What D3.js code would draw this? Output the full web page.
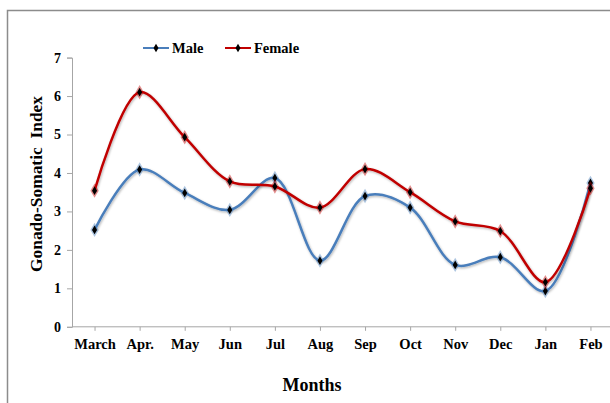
<!DOCTYPE html>
<html lang="en">
<head>
<meta charset="utf-8">
<title>Gonado-Somatic Index</title>
<script src="https://cdn.jsdelivr.net/npm/d3@7"></script>
<style>
  body { margin: 0; background: #fff; }
  svg text { font-family: "Liberation Serif", "Times New Roman", serif; font-weight: bold; fill: #000; }
  .axis path, .axis line { stroke: #a6a6a6; }
</style>
</head>
<body>
<svg width="610" height="403"></svg>
<script>
// data
var months = ['March', 'Apr.', 'May', 'Jun', 'Jul', 'Aug', 'Sep', 'Oct', 'Nov', 'Dec', 'Jan', 'Feb']
var male   = [2.52, 4.09, 3.48, 3.04, 3.87, 1.72, 3.40, 3.10, 1.61, 1.81, 0.93, 3.74]
var female = [3.54, 6.10, 4.93, 3.78, 3.65, 3.10, 4.10, 3.50, 2.74, 2.49, 1.16, 3.60]
var yTicks = [0, 1, 2, 3, 4, 5, 6, 7]

var series = [
  {name: 'Male', values: male, color: '#4a7ebb'},
  {name: 'Female', values: female, color: '#c00000'}
]

var svg = d3.select('svg')

// outer chart frame
svg.append('rect')
  .attr('x', 7.5).attr('y', 10.5)
  .attr('width', 620).attr('height', 420)
  .attr('fill', 'none').attr('stroke', '#8c8c8c').attr('stroke-width', 1.5)

var x = d3.scalePoint().domain(months).range([72, 613]).padding(0.5)
var y = d3.scaleLinear().domain([0, 7]).range([326.8, 57.6])

// shadow for lines
var defs = svg.append('defs')
series.forEach(function(s, i) {
  var f = defs.append('filter').attr('id', 'sh' + i)
    .attr('x', '-5%').attr('y', '-5%').attr('width', '110%').attr('height', '120%')
  f.append('feDropShadow').attr('dx', 0.8).attr('dy', 1.2).attr('stdDeviation', 0.9)
    .attr('flood-color', '#000').attr('flood-opacity', 0.3)
})

// axes
var yAxis = svg.append('g').attr('class', 'axis')
  .attr('transform', 'translate(72,0)')
  .call(d3.axisLeft(y).tickValues(yTicks).tickSize(5).tickPadding(6).tickFormat(d3.format('d')))
yAxis.selectAll('text').style('font-size', '14px')

var xAxis = svg.append('g').attr('class', 'axis')
  .attr('transform', 'translate(0,326.8)')
  .call(d3.axisBottom(x).tickSize(4).tickPadding(8).tickSizeOuter(0))
xAxis.selectAll('text').style('font-size', '14.5px')
xAxis.select('.domain').attr('d', 'M72,0H613')

// lines
var line = d3.line()
  .x(function(d, i) { return x(months[i]) })
  .y(function(d) { return y(d) })
  .curve(d3.curveCatmullRom.alpha(0.5))

series.forEach(function(s, k) {
  var g = svg.append('g')
  g.append('path')
    .attr('d', line(s.values))
    .attr('fill', 'none')
    .attr('stroke', s.color)
    .attr('stroke-width', 2.5)
    .attr('filter', 'url(#sh' + k + ')')

  g.selectAll('path.halo').data(s.values).enter().append('path')
    .attr('class', 'halo')
    .attr('d', d3.symbol().type(d3.symbolDiamond).size(60)())
    .attr('transform', function(d, i) { return 'translate(' + x(months[i]) + ',' + y(d) + ')' })
    .attr('fill', s.color).attr('opacity', 0.45)

  g.selectAll('path.mark').data(s.values).enter().append('path')
    .attr('class', 'mark')
    .attr('d', d3.symbol().type(d3.symbolDiamond).size(22)())
    .attr('transform', function(d, i) { return 'translate(' + x(months[i]) + ',' + y(d) + ')' })
    .attr('fill', '#000')
})

// legend
var legX = [143, 225]
series.forEach(function(s, i) {
  var lg = svg.append('g').attr('transform', 'translate(' + legX[i] + ',48)')
  lg.append('line').attr('x1', 0).attr('x2', 26).attr('y1', 0).attr('y2', 0)
    .attr('stroke', s.color).attr('stroke-width', 2)
  lg.append('path').attr('d', d3.symbol().type(d3.symbolDiamond).size(22)())
    .attr('transform', 'translate(13,0)').attr('fill', '#000')
  lg.append('text').attr('x', 29).attr('y', 5).style('font-size', '14.5px').text(s.name)
})

// axis titles
svg.append('text')
  .attr('transform', 'translate(42,184) rotate(-90)')
  .attr('text-anchor', 'middle')
  .attr('textLength', 176)
  .attr('lengthAdjust', 'spacingAndGlyphs')
  .style('font-size', '17px')
  .style('white-space', 'pre')
  .text('Gonado-Somatic  Index')

svg.append('text')
  .attr('x', 312).attr('y', 391)
  .attr('text-anchor', 'middle')
  .style('font-size', '18px')
  .text('Months')
</script>
</body>
</html>
